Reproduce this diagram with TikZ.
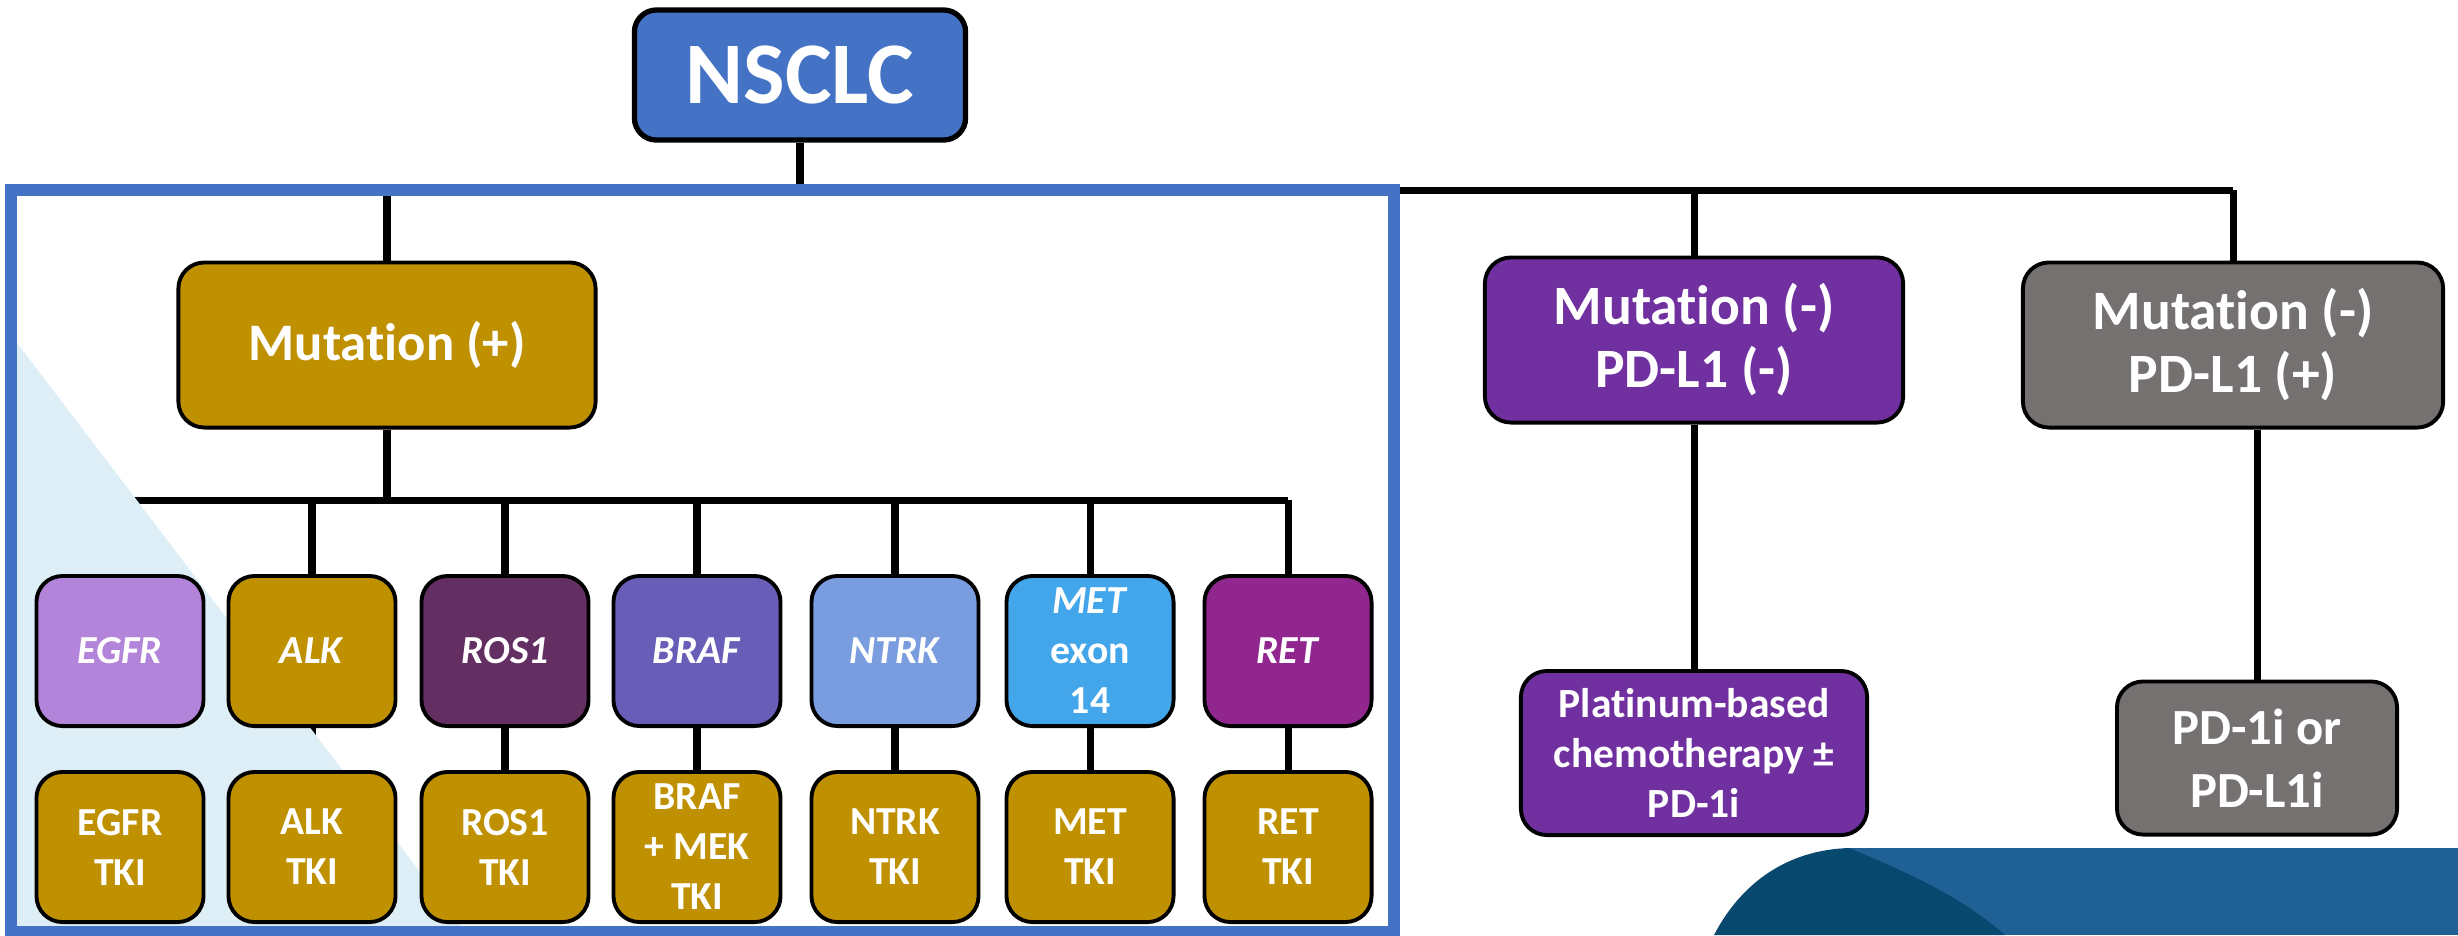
\documentclass[tikz,border=0pt]{standalone}
\usepackage{fontspec}
\setmainfont{Carlito}[Ligatures=NoCommon]
\usepackage{tikz}
\usepackage{xcolor}
\usetikzlibrary{positioning,backgrounds,calc}

\definecolor{nsclcblue}{RGB}{68,114,196}
\definecolor{gold}{RGB}{191,144,0}
\definecolor{egfrc}{RGB}{178,132,218}
\definecolor{rosc}{RGB}{99,46,98}
\definecolor{brafc}{RGB}{104,94,184}
\definecolor{ntrkc}{RGB}{122,157,224}
\definecolor{metc}{RGB}{68,166,234}
\definecolor{retc}{RGB}{146,38,143}
\definecolor{purplec}{RGB}{112,48,160}
\definecolor{grayc}{RGB}{118,113,113}
\definecolor{paleblue}{RGB}{222,238,246}
\definecolor{bandblue}{RGB}{31,97,148}
\definecolor{deepblue}{RGB}{7,72,111}

\tikzset{
  box/.style={draw=black, line width=1.1pt, rounded corners=0.26cm, text=white,
    align=center, inner sep=0pt},
  genebox/.style={box, minimum width=1.67cm, minimum height=1.5cm,
    font=\fontsize{11.3}{14.2}\selectfont\bfseries},
  drugbox/.style={box, fill=gold, minimum width=1.67cm, minimum height=1.5cm,
    font=\fontsize{11.3}{14.2}\selectfont\bfseries},
  headbox/.style={box, minimum width=4.18cm, minimum height=1.65cm,
    font=\fontsize{15.8}{17.9}\selectfont\bfseries},
  link/.style={line width=2pt},
  frame/.style={draw=nsclcblue, line width=3.4pt}
}

\begin{document}
\begin{tikzpicture}[x=0.01cm,y=-0.01cm]
  \useasboundingbox (0,0) rectangle (2458,935);

  % shading behind the mutation panel
  \fill[paleblue] (11,335) -- (465,931) -- (11,931) -- cycle;
  % footer band
  \fill[bandblue] (1849,848) rectangle (2458,935);
  \fill[deepblue] (1714,935) .. controls (1740,885) and (1785,850) .. (1849,848)
    .. controls (1915,875) and (1965,900) .. (2005,935) -- cycle;

  % top of the tree
  \node[box, fill=nsclcblue, line width=1.5pt, rounded corners=0.22cm,
    minimum width=3.31cm, minimum height=1.3cm,
    font=\fontsize{25}{30}\selectfont\bfseries] (nsclc) at (800,75) {NSCLC};
  \node[headbox, fill=gold, minimum width=4.17cm, font=\fontsize{15}{18}\selectfont\bfseries]
    (mutpos) at (387,345) {Mutation (+)};
  \node[headbox, fill=purplec] (negneg) at (1694,340) {Mutation (-)\\PD-L1 (-)};
  \node[headbox, fill=grayc, minimum width=4.2cm] (negpos) at (2233,345) {Mutation (-)\\PD-L1 (+)};

  % outcomes for mutation negative
  \node[box, fill=purplec, minimum width=3.46cm, minimum height=1.64cm,
    font=\fontsize{11.8}{14.2}\selectfont\bfseries] (chemo) at (1694,753)
    {Platinum-based\\chemotherapy ±\\PD-1i};
  \node[box, fill=grayc, minimum width=2.8cm, minimum height=1.53cm,
    font=\fontsize{14.4}{17.9}\selectfont\bfseries] (immuno) at (2257,758)
    {PD-1i or\\PD-L1i};

  % driver genes and their targeted drugs
  \foreach \i/\x/\col/\gene/\drug in {
    1/120/egfrc/\textit{EGFR}/{EGFR\\TKI},
    2/312/gold/\textit{ALK}/{ALK\\TKI},
    3/505/rosc/\textit{ROS1}/{ROS1\\TKI},
    4/697/brafc/\textit{BRAF}/{BRAF\\+ MEK\\TKI},
    5/895/ntrkc/\textit{NTRK}/{NTRK\\TKI},
    6/1090/metc/{\textit{MET}\\exon\\14}/{MET\\TKI},
    7/1288/retc/\textit{RET}/{RET\\TKI}}{
    \node[genebox, fill=\col] (gene\i) at (\x,651) {\gene};
    \node[drugbox] (tx\i) at (\x,847) {\drug};
  }

  % connectors
  \coordinate (fork) at (800,190);
  \coordinate (split) at (387,500);
  \begin{scope}[on background layer]
    \draw[link] (nsclc.south) -- (fork);
    \draw[link] (mutpos.north |- fork) -- (negpos.north |- fork);
    \foreach \n in {mutpos,negneg,negpos}
      \draw[link] (\n.north |- fork) -- (\n.north);
    \draw[link] (mutpos.south) -- (split);
    \draw[link] (gene1.north |- split) -- (gene7.north |- split);
    \foreach \i in {1,...,7}{
      \draw[link] (gene\i.north |- split) -- (gene\i.north);
      \draw[link] (gene\i.south) -- (tx\i.north);
    }
    \draw[link] (negneg.south) -- (chemo.north);
    \draw[link] (immuno.north |- negpos.south) -- (immuno.north);
  \end{scope}

  % panel outline
  \draw[frame] (11,190) rectangle (1394,932);
\end{tikzpicture}
\end{document}
